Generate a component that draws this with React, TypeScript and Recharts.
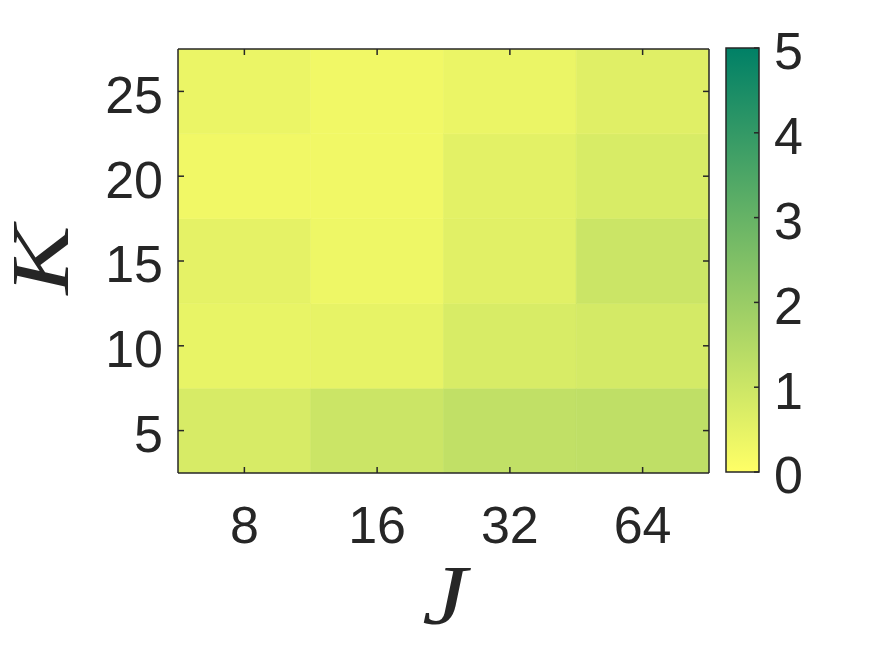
import { ScatterChart, Scatter, XAxis, YAxis, ReferenceArea } from 'recharts';

// columns (J) and rows (K) of the grid
const J_LABELS = ['8', '16', '32', '64'];
const K_VALUES = [5, 10, 15, 20, 25];

const ROW_K5 = [0.78, 1.02, 1.22, 1.25];
const ROW_K10 = [0.45, 0.47, 0.76, 0.84];
const ROW_K15 = [0.51, 0.33, 0.59, 1.02];
const ROW_K20 = [0.27, 0.27, 0.55, 0.76];
const ROW_K25 = [0.39, 0.27, 0.39, 0.61];

const COLORBAR_TICKS = [0, 1, 2, 3, 4, 5];
const C_MIN = 0;
const C_MAX = 5;

const ROWS = [ROW_K5, ROW_K10, ROW_K15, ROW_K20, ROW_K25];
const X_TICKS = J_LABELS.map((_, i) => i + 1);
const K_STEP = K_VALUES[1] - K_VALUES[0];

// flipped "summer" colormap: yellow at C_MIN, teal green at C_MAX
const summer = (v: number) => {
  const t = Math.min(1, Math.max(0, (v - C_MIN) / (C_MAX - C_MIN)));
  const r = Math.round(255 * (1 - t));
  const g = Math.round(255 * (1 - 0.5 * t));
  return `rgb(${r},${g},102)`;
};

const cells = ROWS.flatMap((row, i) =>
  row.map((v, j) => ({ j: j + 1, k: K_VALUES[i], v })),
);
const cbarPoints = COLORBAR_TICKS.map((t) => ({ x: 0.5, c: t }));

const INK = '#262626';
const LINE = { stroke: INK, strokeWidth: 1.5 };
const TICK = {
  fill: INK,
  fontSize: 52,
  fontFamily: '"Liberation Sans", Arial, sans-serif',
};
const YTICK = { ...TICK, dy: 3 };
const LABEL_FONT = '"Liberation Serif", "DejaVu Serif", serif';

// plot boxes (pixels) of the heatmap and of the colour bar
const MAIN_MARGIN = { top: 49, right: 166, bottom: 0, left: 98 };
const MAIN_PLOT = { top: 49, right: 166, bottom: 183, left: 178 };
const CBAR_MARGIN = { top: 48, right: 36, bottom: 184, left: 726 };
const CBAR_PLOT = { top: 48, right: 116, bottom: 184, left: 726 };

const KLabel = ({ viewBox }: any) => {
  const { x, y, height } = viewBox;
  const cx = x - 30;
  const cy = y + height / 2 - 1;
  return (
    <text
      x={0}
      y={0}
      transform={`translate(${cx}, ${cy}) rotate(-90) scale(1.26, 1)`}
      textAnchor='middle'
      fontFamily={LABEL_FONT}
      fontStyle='italic'
      fontSize={82}
      fill={INK}
    >
      K
    </text>
  );
};

const JLabel = ({ viewBox }: any) => {
  const { x, y, width } = viewBox;
  const cx = x + width / 2 + 1;
  const cy = y + 151;
  return (
    <text
      x={0}
      y={0}
      transform={`translate(${cx}, ${cy}) scale(1.2, 1)`}
      textAnchor='middle'
      fontFamily={LABEL_FONT}
      fontStyle='italic'
      fontSize={84}
      fill={INK}
    >
      J
    </text>
  );
};

const xDomain: [number, number] = [0.5, J_LABELS.length + 0.5];
const yDomain: [number, number] = [
  K_VALUES[0] - K_STEP / 2,
  K_VALUES[K_VALUES.length - 1] + K_STEP / 2,
];

const hiddenPoint = () => <g />;
const blankTick = () => <g />;
const layer = { position: 'absolute' as const, left: 0, top: 0 };

export default function App() {
  return (
    <div
      style={{
        position: 'absolute',
        left: 0,
        top: 0,
        width: 875,
        height: 656,
        background: '#fff',
      }}
    >
      {/* heatmap cells with the labelled axes */}
      <div style={layer}>
        <ScatterChart width={875} height={656} margin={MAIN_MARGIN}>
          {cells.map((c) => (
            <ReferenceArea
              key={`${c.j}-${c.k}`}
              x1={c.j - 0.5}
              x2={c.j + 0.5}
              y1={c.k - K_STEP / 2}
              y2={c.k + K_STEP / 2}
              fill={summer(c.v)}
              fillOpacity={1}
              stroke={summer(c.v)}
              strokeWidth={0.6}
              ifOverflow='hidden'
            />
          ))}
          <XAxis
            type='number'
            dataKey='j'
            domain={xDomain}
            allowDataOverflow
            ticks={X_TICKS}
            tickFormatter={(v: number) => J_LABELS[v - 1]}
            height={183}
            stroke={INK}
            axisLine={false}
            tickLine={false}
            tickMargin={27}
            tick={TICK}
            label={<JLabel />}
          />
          <YAxis
            type='number'
            dataKey='k'
            domain={yDomain}
            allowDataOverflow
            ticks={K_VALUES}
            width={80}
            stroke={INK}
            axisLine={false}
            tickLine={false}
            tickMargin={9}
            tick={YTICK}
            label={<KLabel />}
          />
          <Scatter
            data={cells}
            isAnimationActive={false}
            legendType='none'
            shape={hiddenPoint}
          />
        </ScatterChart>
      </div>

      {/* box and inward ticks drawn over the cells */}
      <div style={layer}>
        <ScatterChart width={875} height={656} margin={MAIN_PLOT}>
          <XAxis
            xAxisId='bottom'
            type='number'
            dataKey='j'
            domain={xDomain}
            allowDataOverflow
            ticks={X_TICKS}
            orientation='bottom'
            mirror
            height={1}
            stroke={INK}
            axisLine={LINE}
            tickLine={LINE}
            tickSize={6}
            tick={blankTick}
          />
          <XAxis
            xAxisId='top'
            type='number'
            dataKey='j'
            domain={xDomain}
            allowDataOverflow
            ticks={X_TICKS}
            orientation='top'
            mirror
            height={1}
            stroke={INK}
            axisLine={LINE}
            tickLine={LINE}
            tickSize={6}
            tick={blankTick}
          />
          <YAxis
            yAxisId='left'
            type='number'
            dataKey='k'
            domain={yDomain}
            allowDataOverflow
            ticks={K_VALUES}
            orientation='left'
            mirror
            width={1}
            stroke={INK}
            axisLine={LINE}
            tickLine={LINE}
            tickSize={6}
            tick={blankTick}
          />
          <YAxis
            yAxisId='right'
            type='number'
            dataKey='k'
            domain={yDomain}
            allowDataOverflow
            ticks={K_VALUES}
            orientation='right'
            mirror
            width={1}
            stroke={INK}
            axisLine={LINE}
            tickLine={LINE}
            tickSize={6}
            tick={blankTick}
          />
          <Scatter
            data={cells}
            xAxisId='bottom'
            yAxisId='left'
            isAnimationActive={false}
            legendType='none'
            shape={hiddenPoint}
          />
          <Scatter
            data={cells}
            xAxisId='top'
            yAxisId='right'
            isAnimationActive={false}
            legendType='none'
            shape={hiddenPoint}
          />
        </ScatterChart>
      </div>

      {/* colour bar with its labels */}
      <div style={layer}>
        <ScatterChart width={875} height={656} margin={CBAR_MARGIN}>
          <defs>
            <linearGradient id='colorbarFill' x1='0' y1='1' x2='0' y2='0'>
              {COLORBAR_TICKS.map((t) => (
                <stop
                  key={t}
                  offset={(t - C_MIN) / (C_MAX - C_MIN)}
                  stopColor={summer(t)}
                />
              ))}
            </linearGradient>
          </defs>
          <ReferenceArea
            y1={C_MIN}
            y2={C_MAX}
            fill='url(#colorbarFill)'
            fillOpacity={1}
            stroke={INK}
            strokeWidth={1.5}
          />
          <XAxis type='number' dataKey='x' domain={[0, 1]} hide />
          <YAxis
            type='number'
            dataKey='c'
            orientation='right'
            domain={[C_MIN, C_MAX]}
            ticks={COLORBAR_TICKS}
            width={80}
            axisLine={false}
            tickLine={false}
            tickMargin={9}
            tick={YTICK}
          />
          <Scatter
            data={cbarPoints}
            isAnimationActive={false}
            legendType='none'
            shape={hiddenPoint}
          />
        </ScatterChart>
      </div>

      {/* inward ticks on the colour bar */}
      <div style={layer}>
        <ScatterChart width={875} height={656} margin={CBAR_PLOT}>
          <XAxis type='number' dataKey='x' domain={[0, 1]} hide />
          <YAxis
            type='number'
            dataKey='c'
            orientation='right'
            mirror
            width={1}
            domain={[C_MIN, C_MAX]}
            ticks={COLORBAR_TICKS}
            stroke={INK}
            axisLine={false}
            tickLine={LINE}
            tickSize={5}
            tick={blankTick}
          />
          <Scatter
            data={cbarPoints}
            isAnimationActive={false}
            legendType='none'
            shape={hiddenPoint}
          />
        </ScatterChart>
      </div>
    </div>
  );
}
